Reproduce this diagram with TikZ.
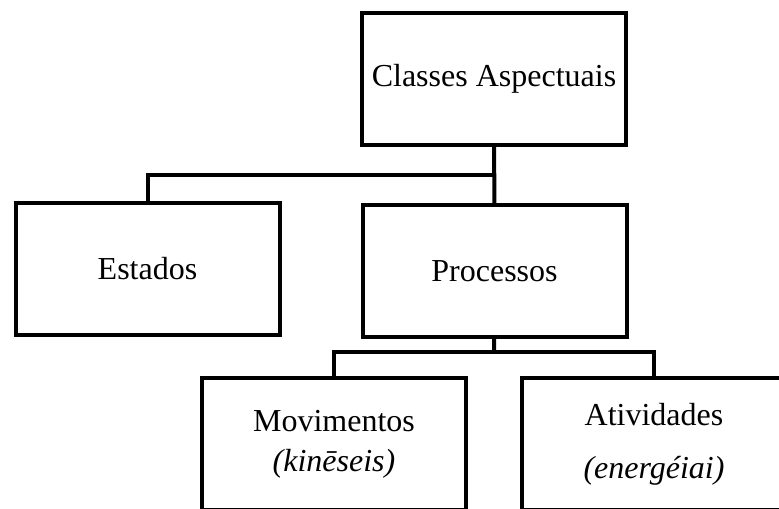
\documentclass[tikz,border=0pt]{standalone}
\usepackage{fontspec}
\setmainfont{Liberation Serif}

\begin{document}
\begin{tikzpicture}[%
    x=0.75pt,
    y=-0.75pt,
    class/.style={%
        draw,
        rectangle,
        line width=3pt,
        align=center,
        inner sep=0pt,
        minimum width=198pt,
        minimum height=99pt,
        font=\fontsize{24}{28}\selectfont
    },
    link/.style={%
        line width=3pt
    }
]
\clip (0,0) rectangle (779,508);

% Top level
\node[class] (classes) at (494,79) {Classes Aspectuais};

% Second level
\node[class] (estados) at (147.5,269) {Estados};
\node[class] (processos) at (494.5,271) {Processos};

% Third level
\node[class] (movimentos) at (334,444) {Movimentos\\[2pt]\textit{(kinēseis)}};
\node[class] (atividades) at (654,444) {Atividades\\[12pt]\textit{(energéiai)}};

% Forks
\coordinate (fork1) at (494,175);
\coordinate (fork2) at (494,352);

% Lines
\draw[link] (classes) -- (processos);
\draw[link] (fork1) -| (estados);
\draw[link] (processos) -- (fork2);
\draw[link] (movimentos) |- (fork2) -| (atividades);

\end{tikzpicture}
\end{document}
